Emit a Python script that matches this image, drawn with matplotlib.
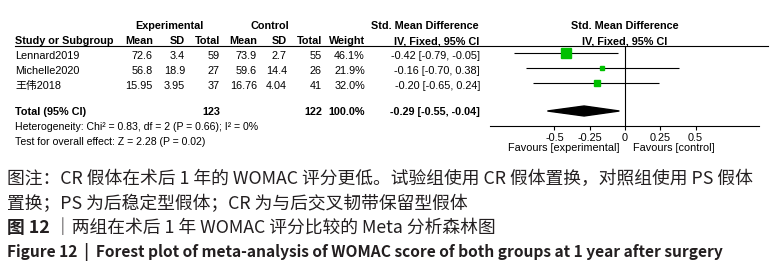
import matplotlib

matplotlib.use("Agg")
import matplotlib.pyplot as plt
from matplotlib.patches import Polygon

plt.rcParams["axes.unicode_minus"] = False

TAB_FONT = ["Liberation Sans", "Noto Sans CJK SC"]
CAP_FONT = ["Noto Sans CJK SC", "DejaVu Sans"]
INK = "#000000"
CAP_INK = "#231f20"
GREEN = "#00c000"

# --- data -------------------------------------------------------------
studies = ["Lennard2019", "Michelle2020", "王伟2018"]
exp_mean = ["72.6", "56.8", "15.95"]
exp_sd = ["3.4", "18.9", "3.95"]
exp_n = [59, 27, 37]
ctl_mean = ["73.9", "59.6", "16.76"]
ctl_sd = ["2.7", "14.4", "4.04"]
ctl_n = [55, 26, 41]
weight = [46.1, 21.9, 32.0]
smd = [-0.42, -0.16, -0.20]
ci_lo = [-0.79, -0.70, -0.65]
ci_hi = [-0.05, 0.38, 0.24]

total_exp = 123
total_ctl = 122
total_weight = 100.0
total_smd = -0.29
total_lo = -0.55
total_hi = -0.04
heterogeneity = "Heterogeneity: Chi² = 0.83, df = 2 (P = 0.66); I² = 0%"
overall = "Test for overall effect: Z = 2.28 (P = 0.02)"

ticks = [-0.5, -0.25, 0, 0.25, 0.5]
tick_labels = ["-0.5", "-0.25", "0", "0.25", "0.5"]

caption = [
    "图注：CR 假体在术后 1 年的 WOMAC 评分更低。试验组使用 CR 假体置换，对照组使用 PS 假体",
    "置换；PS 为后稳定型假体；CR 为与后交叉韧带保留型假体",
]
fig_cn = ("图 12", " ｜两组在术后 1 年 WOMAC 评分比较的 Meta 分析森林图")
fig_en = "Figure 12  |  Forest plot of meta-analysis of WOMAC score of both groups at 1 year after surgery"

# --- layout (pixels) ---------------------------------------------------
W, H = 771, 276
ROW_TEXT = [56, 71, 86]
ROW_MARK = [53, 68, 83]
Y_TOTAL = 112
Y_HET, Y_TEST = 127, 142
AX_TOP, AX_BOT = 46, 126
COLS = dict(em=153, esd=185, en=220, cm=257, csd=287, cn=322, w=365, ci=480)

fig = plt.figure(figsize=(W / 100, H / 100), dpi=100)
fig.patch.set_facecolor("white")
ax = fig.add_axes([0, 0, 1, 1])
ax.set_xlim(0, W)
ax.set_ylim(H, 0)
ax.axis("off")

fs = 7.8


def txt(x, y, s, ha="right", bold=False, size=fs):
    ax.text(x, y, s, ha=ha, va="center", fontsize=size, color=INK,
            family=TAB_FONT, fontweight="bold" if bold else "normal")


# header
txt(169, 26, "Experimental", ha="center", bold=True)
txt(270, 26, "Control", ha="center", bold=True)
txt(479, 26, "Std. Mean Difference", bold=True)
txt(625, 26, "Std. Mean Difference", ha="center", bold=True)
txt(15, 41, "Study or Subgroup", ha="left", bold=True)
for key, lab in [("em", "Mean"), ("esd", "SD"), ("en", "Total"),
                 ("cm", "Mean"), ("csd", "SD"), ("cn", "Total"), ("w", "Weight")]:
    txt(COLS[key], 41, lab, bold=True)
txt(479, 41, "IV, Fixed, 95% CI", bold=True)
txt(625, 41, "IV, Fixed, 95% CI", ha="center", bold=True)
ax.plot([15, 768], [AX_TOP, AX_TOP], color=INK, lw=0.8)

# study rows
for i, name in enumerate(studies):
    y = ROW_TEXT[i]
    txt(15, y, name, ha="left")
    txt(COLS["em"], y, exp_mean[i])
    txt(COLS["esd"], y, exp_sd[i])
    txt(COLS["en"], y, str(exp_n[i]))
    txt(COLS["cm"], y, ctl_mean[i])
    txt(COLS["csd"], y, ctl_sd[i])
    txt(COLS["cn"], y, str(ctl_n[i]))
    txt(COLS["w"], y, f"{weight[i]:.1f}%")
    txt(COLS["ci"], y, f"{smd[i]:.2f} [{ci_lo[i]:.2f}, {ci_hi[i]:.2f}]")

# total rows
txt(15, Y_TOTAL, "Total (95% CI)", ha="left", bold=True)
txt(COLS["en"], Y_TOTAL, str(total_exp), bold=True)
txt(COLS["cn"], Y_TOTAL, str(total_ctl), bold=True)
txt(COLS["w"], Y_TOTAL, f"{total_weight:.1f}%", bold=True)
txt(COLS["ci"], Y_TOTAL, f"{total_smd:.2f} [{total_lo:.2f}, {total_hi:.2f}]", bold=True)
txt(15, Y_HET, heterogeneity, ha="left", size=7.6)
txt(15, Y_TEST, overall, ha="left", size=7.6)

# forest panel
x0, x1 = 490, 759
fx = fig.add_axes([x0 / W, 1 - AX_BOT / H, (x1 - x0) / W, (AX_BOT - AX_TOP) / H])
fx.set_xlim(-0.957, 0.950)
fx.set_ylim(AX_BOT, AX_TOP)
fx.patch.set_alpha(0)
for side in ("top", "right", "left"):
    fx.spines[side].set_visible(False)
fx.spines["bottom"].set_linewidth(0.8)
fx.set_yticks([])
fx.set_xticks(ticks)
fx.set_xticklabels(tick_labels, family=TAB_FONT, fontsize=fs)
fx.tick_params(axis="x", direction="out", length=3, width=0.8, pad=2)
fx.axvline(0, color=INK, lw=0.8)
fx.hlines(ROW_MARK, ci_lo, ci_hi, color=INK, lw=0.8)
for i in range(len(studies)):
    fx.plot(smd[i], ROW_MARK[i], marker="s", color=GREEN, mec=GREEN,
            markersize=weight[i] * 0.145, ls="none")
fx.add_patch(Polygon([(total_lo, Y_TOTAL - 1), (total_smd, Y_TOTAL - 6),
                      (total_hi, Y_TOTAL - 1), (total_smd, Y_TOTAL + 4)],
                     closed=True, color=INK))
txt(620, 148, "Favours [experimental]")
txt(633, 148, "Favours [control]", ha="left")

# caption
cs = 12.8
ax.text(7, 179, caption[0], ha="left", va="center", fontsize=cs, family=CAP_FONT, color=CAP_INK)
ax.text(7, 204, caption[1], ha="left", va="center", fontsize=cs, family=CAP_FONT, color=CAP_INK)
t3 = ax.text(7, 228, fig_cn[0], ha="left", va="center", fontsize=cs, family=CAP_FONT,
             color=CAP_INK, fontweight="bold")
ax.annotate(fig_cn[1], xy=(1, 0.5), xycoords=t3, ha="left", va="center", fontsize=cs,
            family=CAP_FONT, color=CAP_INK)
ax.text(7, 252, fig_en, ha="left", va="center", fontsize=11.2, family=CAP_FONT,
        color=CAP_INK, fontweight="bold")

fig.savefig("out.png", dpi=100, facecolor="white")
